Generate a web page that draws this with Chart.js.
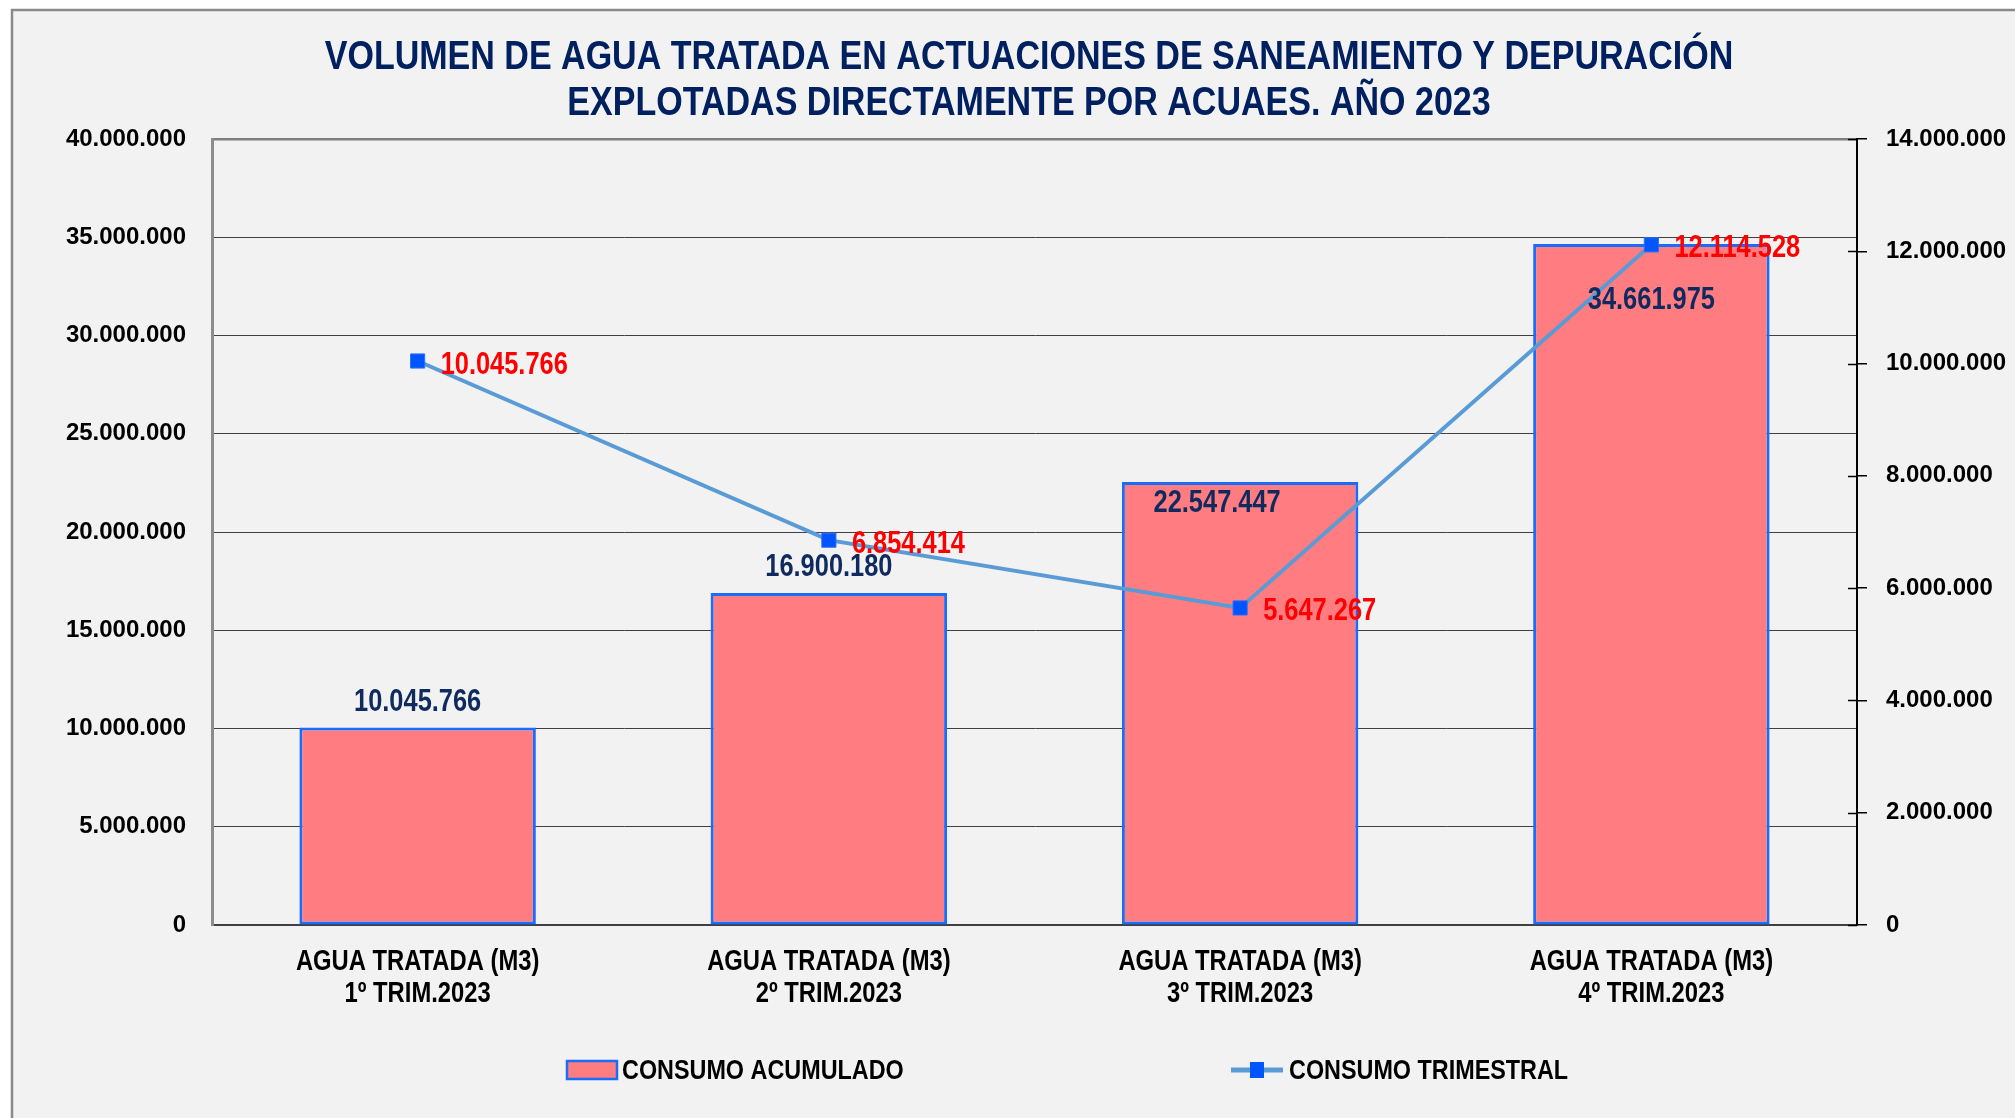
<!DOCTYPE html>
<html>
<head>
<meta charset="utf-8">
<script src="https://cdn.jsdelivr.net/npm/chart.js@4.4.1/dist/chart.umd.min.js"></script>
<style>
  html, body { margin: 0; padding: 0; background: #fff; }
</style>
</head>
<body>
<canvas id="aguaChart" width="2015" height="1118"></canvas>
<script>
// datos
const categories = [
  ['AGUA TRATADA (M3)', '1º TRIM.2023'],
  ['AGUA TRATADA (M3)', '2º TRIM.2023'],
  ['AGUA TRATADA (M3)', '3º TRIM.2023'],
  ['AGUA TRATADA (M3)', '4º TRIM.2023']
];
const consumoAcumulado = [10045766, 16900180, 22547447, 34661975];
const consumoTrimestral = [10045766, 6854414, 5647267, 12114528];
const leftTicks = [0, 5000000, 10000000, 15000000, 20000000, 25000000, 30000000, 35000000, 40000000];
const rightTicks = [0, 2000000, 4000000, 6000000, 8000000, 10000000, 12000000, 14000000];
const titleLines = [
  'VOLUMEN DE AGUA TRATADA EN ACTUACIONES DE SANEAMIENTO Y DEPURACIÓN',
  'EXPLOTADAS DIRECTAMENTE POR ACUAES. AÑO 2023'
];
const legendLabels = ['CONSUMO ACUMULADO', 'CONSUMO TRIMESTRAL'];

const WIDE = "'Liberation Sans', Arial, sans-serif";
const SQUEEZE = 0.82; // imita Arial Narrow
const BAR_FILL = '#ff7c80';
const BAR_EDGE = '#1a6cff';
const LINE_COLOR = '#5b9bd5';
const MARKER = '#0055ff';

const fmt = v => String(v).replace(/\B(?=(\d{3})+(?!\d))/g, '.');

function narrowText(ctx, text, x, y, size, align) {
  ctx.save();
  ctx.translate(x, y);
  ctx.scale(SQUEEZE, 1);
  ctx.font = `bold ${size}px ${WIDE}`;
  ctx.textAlign = align;
  ctx.textBaseline = 'middle';
  ctx.fillText(text, 0, 0);
  ctx.restore();
}

// fondo, titulo, leyenda y etiquetas
const decor = {
  id: 'decor',
  beforeDraw(chart) {
    const { ctx, width, height } = chart;
    ctx.save();
    ctx.fillStyle = '#fff';
    ctx.fillRect(0, 0, width, height);
    ctx.fillStyle = '#f2f2f2';
    ctx.fillRect(12, 10, width - 12, height - 10);
    ctx.strokeStyle = '#8a8a8a';
    ctx.lineWidth = 2.5;
    ctx.beginPath();
    ctx.moveTo(12, height);
    ctx.lineTo(12, 10);
    ctx.lineTo(width, 10);
    ctx.stroke();

    ctx.fillStyle = '#002060';
    narrowText(ctx, titleLines[0], 1029, 58, 41.5, 'center');
    narrowText(ctx, titleLines[1], 1029, 104, 41.5, 'center');
    ctx.restore();
  },
  afterDatasetsDraw(chart) {
    const { ctx } = chart;
    const bars = chart.getDatasetMeta(0).data;
    const pts = chart.getDatasetMeta(1).data;
    const barOffsets = [[0, -25], [0, -25], [-23, 22], [0, 57]];
    ctx.save();
    ctx.fillStyle = '#0f2a5e';
    bars.forEach((el, i) => {
      narrowText(ctx, fmt(consumoAcumulado[i]), el.x + barOffsets[i][0], el.y + barOffsets[i][1], 31, 'center');
    });
    ctx.fillStyle = '#ff0000';
    pts.forEach((el, i) => {
      narrowText(ctx, fmt(consumoTrimestral[i]), el.x + 23, el.y + 4, 31, 'left');
    });
    ctx.restore();
  },
  afterDraw(chart) {
    const { ctx, chartArea } = chart;
    const y1 = chart.scales.y1;
    const x = chart.scales.x;
    ctx.save();
    // marcas interiores del eje derecho
    ctx.strokeStyle = '#000';
    ctx.lineWidth = 1.5;
    y1.ticks.forEach(t => {
      const y = Math.round(y1.getPixelForValue(t.value)) + 0.5;
      ctx.beginPath();
      ctx.moveTo(chartArea.right - 9, y);
      ctx.lineTo(chartArea.right, y);
      ctx.stroke();
    });

    // etiquetas de categoria
    ctx.fillStyle = '#000';
    categories.forEach((lines, i) => {
      const px = x.getPixelForTick(i);
      lines.forEach((t, j) => narrowText(ctx, t, px, 962 + j * 32, 29, 'center'));
    });

    // leyenda
    const ly = 1070;
    ctx.fillStyle = BAR_FILL;
    ctx.strokeStyle = BAR_EDGE;
    ctx.lineWidth = 2.5;
    ctx.fillRect(567, ly - 9, 50, 18);
    ctx.strokeRect(567, ly - 9, 50, 18);
    ctx.strokeStyle = LINE_COLOR;
    ctx.lineWidth = 5;
    ctx.beginPath();
    ctx.moveTo(1231, ly);
    ctx.lineTo(1283, ly);
    ctx.stroke();
    ctx.fillStyle = MARKER;
    ctx.fillRect(1250, ly - 8, 14, 16);

    ctx.fillStyle = '#000';
    narrowText(ctx, legendLabels[0], 622, ly + 1, 28.5, 'left');
    narrowText(ctx, legendLabels[1], 1289, ly + 1, 28.5, 'left');
    ctx.restore();
  }
};

new Chart(document.getElementById('aguaChart').getContext('2d'), {
  data: {
    labels: categories,
    datasets: [
      {
        type: 'bar',
        label: legendLabels[0],
        data: consumoAcumulado,
        yAxisID: 'y',
        backgroundColor: BAR_FILL,
        borderColor: BAR_EDGE,
        borderWidth: 3,
        borderSkipped: false,
        categoryPercentage: 1,
        barPercentage: 0.575,
        order: 1
      },
      {
        type: 'line',
        label: legendLabels[1],
        data: consumoTrimestral,
        yAxisID: 'y1',
        borderColor: LINE_COLOR,
        borderWidth: 4,
        pointStyle: 'rect',
        pointRadius: 10,
        pointBackgroundColor: MARKER,
        pointBorderColor: '#2e6dff',
        pointBorderWidth: 1,
        tension: 0,
        order: 0
      }
    ]
  },
  options: {
    responsive: false,
    animation: false,
    layout: { padding: { left: 12, top: 139, right: 0, bottom: 73 } },
    scales: {
      x: {
        grid: { display: false, drawTicks: false },
        border: { color: '#404040', width: 2 },
        ticks: { display: false },
        afterFit: s => { s.height = 120; }
      },
      y: {
        position: 'left',
        min: leftTicks[0],
        max: leftTicks[leftTicks.length - 1],
        afterBuildTicks: s => { s.ticks = leftTicks.map(v => ({ value: v })); },
        grid: {
          drawTicks: false,
          color: c => c.tick && c.tick.value === 40000000 ? '#7f7f7f' : '#404040',
          lineWidth: c => c.tick && c.tick.value === 40000000 ? 2.5 : 1
        },
        border: { color: '#8c8c8c', width: 3 },
        ticks: {
          color: '#000',
          font: { family: WIDE, size: 24, weight: 'bold' },
          padding: 26,
          callback: v => fmt(v)
        },
        afterFit: s => { s.width = 200; }
      },
      y1: {
        position: 'right',
        min: rightTicks[0],
        max: rightTicks[rightTicks.length - 1],
        afterBuildTicks: s => { s.ticks = rightTicks.map(v => ({ value: v })); },
        grid: { drawOnChartArea: false, color: '#000', lineWidth: 1.5, tickLength: 10 },
        border: { color: '#000', width: 2 },
        ticks: {
          color: '#000',
          font: { family: WIDE, size: 24, weight: 'bold' },
          padding: 19,
          callback: v => fmt(v)
        },
        afterFit: s => { s.width = 158; }
      }
    },
    plugins: {
      legend: { display: false },
      title: { display: false },
      tooltip: { enabled: false }
    }
  },
  plugins: [decor]
});
</script>
</body>
</html>
